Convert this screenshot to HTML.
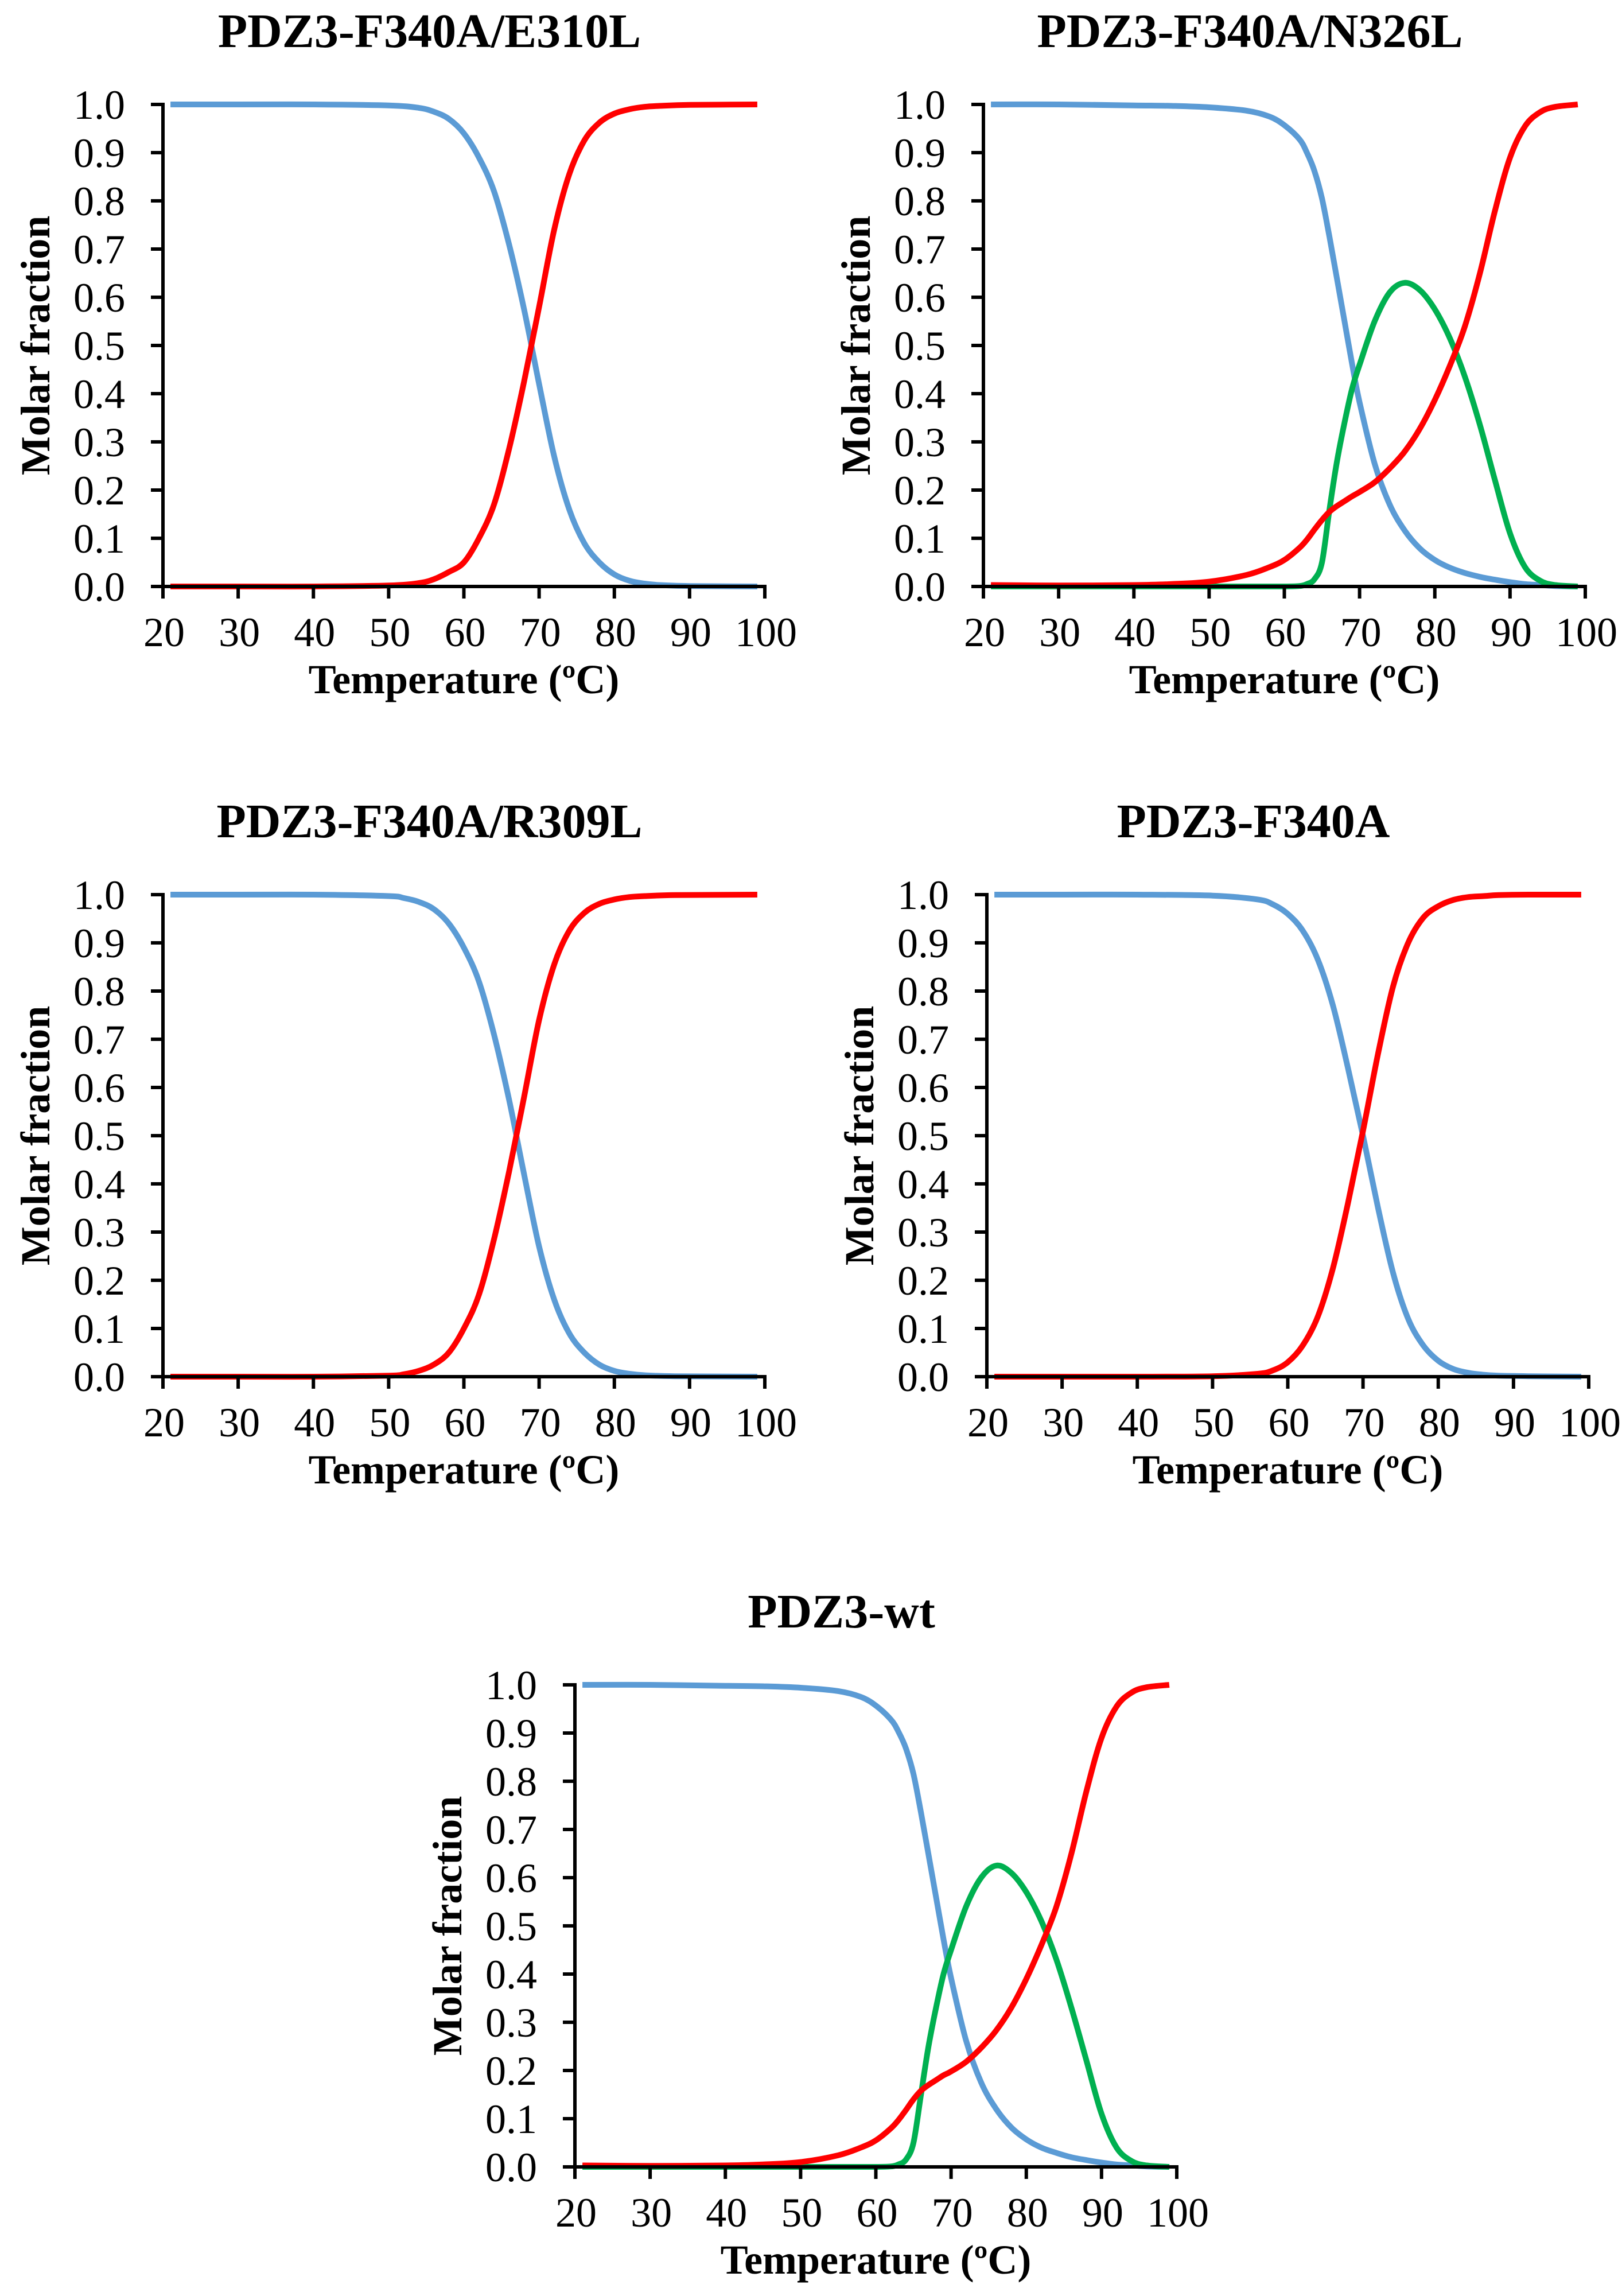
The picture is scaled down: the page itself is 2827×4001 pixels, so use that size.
<!DOCTYPE html>
<html><head><meta charset="utf-8"><title>PDZ3 molar fraction curves</title>
<style>
html,body{margin:0;padding:0;background:#fff;}
svg{display:block;}
text{font-family:"Liberation Serif","Times New Roman",serif;fill:#000;}
</style></head>
<body>
<svg id="fig" width="2827" height="4001" viewBox="0 0 2827 4001" xmlns="http://www.w3.org/2000/svg"></svg>
<script>
// ---- data ----
const xTicks = [20,30,40,50,60,70,80,90,100];
const yTicks = [0,0.1,0.2,0.3,0.4,0.5,0.6,0.7,0.8,0.9,1.0];
const yTickLabels = ["0.0","0.1","0.2","0.3","0.4","0.5","0.6","0.7","0.8","0.9","1.0"];

// Two-state panels
const tE310L = [21,30,40,50,54,56,58,60,62,64,66,68,70,72,74,76,78,80,82,84,86,90,99];
const blueE310L = [1,1,1,0.998,0.993,0.985,0.97,0.94,0.89,0.82,0.71,0.575,0.42,0.27,0.16,0.09,0.05,0.025,0.012,0.006,0.003,0.001,0];
const redE310L = [0,0,0,0.002,0.007,0.015,0.03,0.05,0.10,0.17,0.285,0.425,0.58,0.74,0.855,0.925,0.962,0.981,0.99,0.995,0.997,0.999,1];

const tR309L = [21,30,40,50,52,54,56,58,60,62,64,66,68,70,72,74,76,78,80,82,84,88,99];
const blueR309L = [1,1,1,0.997,0.993,0.985,0.97,0.94,0.89,0.82,0.71,0.575,0.42,0.27,0.16,0.09,0.05,0.025,0.012,0.006,0.003,0.001,0];
const redR309L = [0,0,0,0.002,0.005,0.012,0.025,0.05,0.10,0.17,0.285,0.425,0.58,0.74,0.855,0.925,0.962,0.981,0.99,0.995,0.997,0.999,1];

const tF340A = [21,30,40,50,56,58,60,62,64,66,68,70,72,74,76,78,80,82,84,86,88,92,99];
const blueF340A = [1,1,1,0.998,0.99,0.98,0.96,0.925,0.865,0.77,0.64,0.5,0.35,0.215,0.12,0.065,0.033,0.016,0.008,0.004,0.002,0.001,0];
const redF340A = [0,0,0,0.001,0.006,0.013,0.03,0.065,0.125,0.225,0.36,0.51,0.67,0.81,0.90,0.952,0.976,0.989,0.995,0.997,0.999,1,1];

// Three-state panels
const tWT = [21,30,40,45,50,55,58,60,62,63,64,65,66,67,68,69,70,72,74,76,78,80,82,84,86,88,90,92,94,96,99];
const blueWT = [1,1,0.998,0.997,0.994,0.987,0.975,0.957,0.928,0.903,0.868,0.815,0.735,0.648,0.56,0.472,0.392,0.262,0.175,0.12,0.082,0.057,0.04,0.029,0.02,0.014,0.009,0.005,0.003,0.001,0];
const greenWT = [0,0,0,0,0,0,0,0,0.001,0.005,0.015,0.05,0.15,0.25,0.33,0.40,0.45,0.54,0.60,0.625,0.61,0.57,0.51,0.43,0.33,0.22,0.11,0.04,0.012,0.003,0];
const redWT = [0.003,0.002,0.003,0.005,0.01,0.024,0.04,0.055,0.08,0.097,0.118,0.14,0.158,0.17,0.18,0.19,0.198,0.218,0.247,0.283,0.33,0.39,0.46,0.54,0.65,0.78,0.89,0.955,0.984,0.995,1];

const tN326L = tWT;
const blueN326L = [1,1,0.998,0.997,0.994,0.987,0.975,0.957,0.928,0.9,0.862,0.805,0.725,0.638,0.55,0.462,0.382,0.255,0.17,0.116,0.079,0.055,0.039,0.028,0.02,0.014,0.009,0.005,0.003,0.001,0];
const greenN326L = [0,0,0,0,0,0,0,0,0.001,0.005,0.015,0.05,0.16,0.26,0.34,0.41,0.46,0.55,0.61,0.63,0.615,0.575,0.515,0.435,0.335,0.22,0.11,0.04,0.012,0.003,0];
const redN326L = [0.003,0.002,0.003,0.005,0.01,0.024,0.04,0.055,0.08,0.097,0.118,0.138,0.155,0.167,0.177,0.187,0.196,0.216,0.245,0.28,0.327,0.387,0.458,0.54,0.65,0.78,0.89,0.955,0.984,0.995,1];

// ---- layout ----
const NS = "http://www.w3.org/2000/svg";
const svg = document.getElementById('fig');
const BLUE = "#5B9BD5", RED = "#FF0000", GREEN = "#00B050";

const panels = [
  {name:"panel-e310l", title:"PDZ3-F340A/E310L", x0:284, y1:182, t:tE310L, series:[[blueE310L,BLUE,"blue"],[redE310L,RED,"red"]]},
  {name:"panel-n326l", title:"PDZ3-F340A/N326L", x0:1714, y1:182, t:tN326L, series:[[blueN326L,BLUE,"blue"],[greenN326L,GREEN,"green"],[redN326L,RED,"red"]]},
  {name:"panel-r309l", title:"PDZ3-F340A/R309L", x0:284, y1:1559, t:tR309L, series:[[blueR309L,BLUE,"blue"],[redR309L,RED,"red"]]},
  {name:"panel-f340a", title:"PDZ3-F340A", x0:1720, y1:1559, t:tF340A, series:[[blueF340A,BLUE,"blue"],[redF340A,RED,"red"]]},
  {name:"panel-wt", title:"PDZ3-wt", x0:1002, y1:2936, t:tWT, series:[[blueWT,BLUE,"blue"],[greenWT,GREEN,"green"],[redWT,RED,"red"]]}
];
const PW = 1049, PH = 840;

function el(tag, attrs, parent){
  const e = document.createElementNS(NS, tag);
  for (const k in attrs) e.setAttribute(k, attrs[k]);
  parent.appendChild(e);
  return e;
}
function smoothPath(pts){
  let d = "M" + pts[0][0].toFixed(1) + "," + pts[0][1].toFixed(1);
  for (let i = 0; i < pts.length - 1; i++){
    const p0 = pts[Math.max(0,i-1)], p1 = pts[i], p2 = pts[i+1], p3 = pts[Math.min(pts.length-1,i+2)];
    const c1x = p1[0] + (p2[0]-p0[0])/6, c1y = p1[1] + (p2[1]-p0[1])/6;
    const c2x = p2[0] - (p3[0]-p1[0])/6, c2y = p2[1] - (p3[1]-p1[1])/6;
    d += " C" + c1x.toFixed(1)+","+c1y.toFixed(1)+" "+c2x.toFixed(1)+","+c2y.toFixed(1)+" "+p2[0].toFixed(1)+","+p2[1].toFixed(1);
  }
  return d;
}

panels.forEach(p => {
  const g = el('g', {}, svg);
  
  
  const xs = v => p.x0 + (v - 20) / 80 * PW;
  const ys = v => p.y1 + (1 - v) * PH;
  const y0 = p.y1 + PH;

  const title = el('text', {x: p.x0 + PW/2 - 60, y: p.y1 - 100, 'font-size': 84, 'font-weight': 'bold', 'text-anchor': 'middle'}, g);
  
  
  title.textContent = p.title;

  const series = el('g', {}, g);
  
  
  p.series.forEach(s => {
    const pts = p.t.map((t, i) => [xs(t), ys(s[0][i])]);
    const path = el('path', {d: smoothPath(pts), fill: 'none', stroke: s[1], 'stroke-width': 10, 'stroke-linejoin': 'round', 'stroke-linecap': 'butt'}, series);
    
    
  });

  const axes = el('g', {stroke: '#000', 'stroke-width': 6, fill: 'none'}, g);
  
  
  el('line', {x1: p.x0, y1: p.y1 - 3, x2: p.x0, y2: y0 + 3}, axes);
  el('line', {x1: p.x0 - 3, y1: y0, x2: p.x0 + PW + 3, y2: y0}, axes);

  yTicks.forEach((v, i) => {
    el('line', {x1: p.x0 - 21, y1: ys(v), x2: p.x0, y2: ys(v)}, axes);
    const lab = el('text', {x: p.x0 - 66, y: ys(v) + 25, 'font-size': 72, 'text-anchor': 'end'}, g);
    
    
    lab.textContent = yTickLabels[i];
  });
  xTicks.forEach(v => {
    el('line', {x1: xs(v), y1: y0, x2: xs(v), y2: y0 + 21}, axes);
    const lab = el('text', {x: xs(v) + 2, y: y0 + 104, 'font-size': 72, 'text-anchor': 'middle'}, g);
    
    
    lab.textContent = String(v);
  });

  const xt = el('text', {x: p.x0 + PW/2, y: y0 + 186, 'font-size': 72, 'font-weight': 'bold', 'text-anchor': 'middle'}, g);
  
  
  xt.textContent = "Temperature (ºC)";

  const yx = p.x0 - 198, yy = p.y1 + PH/2;
  const yt = el('text', {x: yx, y: yy, 'font-size': 72, 'font-weight': 'bold', 'text-anchor': 'middle', transform: 'rotate(-90 ' + yx + ' ' + yy + ')'}, g);
  
  
  yt.textContent = "Molar fraction";
});
</script>
</body></html>
